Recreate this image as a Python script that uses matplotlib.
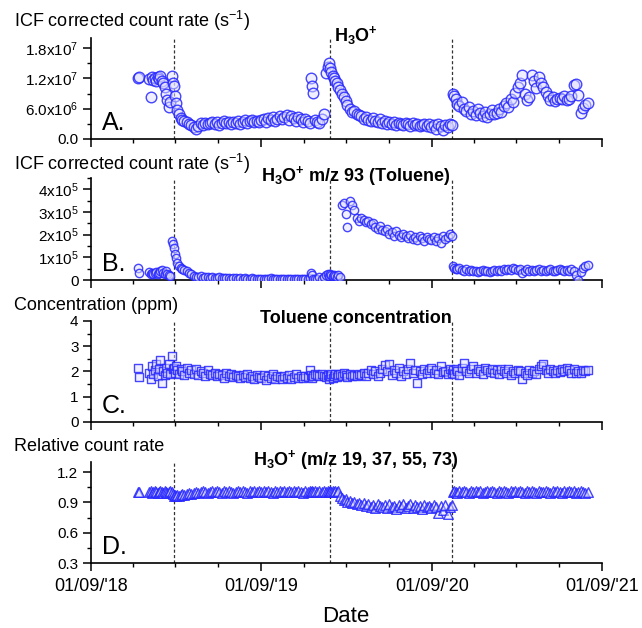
"""
Stacked time series: ICF corrected count rates (H3O+ and m/z 93),
toluene concentration and relative H3O+ count rate on a shared date axis.
"""

import numpy as np
import pandas as pd
import matplotlib
matplotlib.use("Agg")
import matplotlib.pyplot as plt
import matplotlib.dates as mdates
from matplotlib.ticker import MultipleLocator

plt.rcParams["font.family"] = ["Liberation Sans", "DejaVu Sans"]
plt.rcParams["mathtext.fontset"] = "custom"
plt.rcParams["mathtext.rm"] = "Liberation Sans"
plt.rcParams["mathtext.it"] = "Liberation Sans:italic"
plt.rcParams["mathtext.bf"] = "Liberation Sans:bold"

START = pd.Timestamp("2018-09-01")
END   = pd.Timestamp("2021-09-01")

# ─── Data ─────────────────────────────────────────────────────────────────────

# measurement days, counted from 01/09/2018
days = [
    100, 104, 125, 128, 131, 134, 137, 140, 143, 146,
    149, 152, 155, 158, 161, 164, 167, 170, 173, 176,
    178, 180, 182, 185, 188, 192, 196, 200, 205, 210,
    215, 220, 225, 230, 235, 240, 245, 250, 255, 260,
    265, 270, 275, 280, 285, 290, 295, 300, 305, 310,
    315, 320, 325, 330, 335, 340, 345, 350, 355, 360,
    365, 370, 375, 380, 385, 390, 395, 400, 405, 410,
    415, 420, 425, 430, 435, 440, 445, 450, 455, 460,
    465, 470, 472, 474, 476, 480, 485, 490, 495, 500,
    504, 508, 510, 512, 515, 518, 521, 524, 527, 530,
    534, 538, 542, 546, 550, 555, 560, 565, 570, 575,
    580, 585, 590, 595, 600, 605, 610, 615, 620, 625,
    630, 635, 640, 645, 650, 655, 660, 665, 670, 675,
    680, 685, 690, 695, 700, 705, 710, 715, 720, 725,
    730, 735, 740, 745, 750, 755, 760, 765, 770, 774,
    776, 779, 782, 786, 790, 795, 800, 805, 810, 815,
    820, 825, 830, 835, 840, 845, 850, 855, 860, 865,
    870, 875, 880, 885, 890, 895, 900, 905, 910, 915,
    920, 925, 930, 935, 940, 945, 950, 955, 960, 965,
    970, 975, 980, 985, 990, 995, 1000, 1005, 1010, 1015,
    1020, 1025, 1030, 1035, 1040, 1045, 1050, 1055, 1060, 1066,
]

# H3O+ ICF corrected count rate, x10^6 s-1
h3o_rate = [
    12.1, 12.2, 11.8, 8.4, 12.2, 11.6, 12.0, 11.5, 12.3, 11.8,
    12.4, 11.5, 11.0, 10.2, 9.0, 7.8, 6.4, 7.3, 12.5, 11.0,
    10.4, 8.6, 7.2, 5.8, 4.9, 4.2, 3.8, 3.6, 3.3, 3.0,
    2.8, 2.4, 2.0, 2.6, 3.1, 2.7, 3.2, 2.9, 3.1, 3.3,
    3.0, 3.4, 2.8, 3.2, 3.5, 3.1, 3.3, 2.9, 3.4, 3.2,
    3.6, 3.0, 3.4, 3.7, 3.2, 3.5, 3.8, 3.3, 3.6, 3.4,
    3.7, 4.0, 3.4, 4.2, 3.8, 4.4, 3.6, 4.0, 4.6, 3.9,
    4.3, 4.8, 3.7, 4.5, 4.1, 3.6, 4.4, 3.9, 3.4, 4.0,
    3.5, 3.2, 12.0, 10.4, 9.2, 3.8, 3.4, 3.2, 4.0, 5.0,
    13.0, 14.2, 15.0, 14.0, 13.2, 12.4, 12.0, 11.4, 11.0, 10.2,
    9.7, 9.0, 8.4, 7.6, 6.8, 6.0, 5.4, 5.6, 5.0, 4.8,
    4.5, 4.0, 4.3, 3.8, 3.5, 4.1, 3.6, 3.3, 3.9, 3.2,
    3.5, 3.0, 3.4, 2.9, 3.3, 2.7, 3.2, 3.0, 2.8, 3.1,
    2.9, 2.6, 3.1, 2.7, 3.0, 2.5, 2.8, 3.0, 2.6, 2.9,
    2.4, 2.8, 2.0, 2.9, 2.5, 1.8, 2.7, 2.3, 3.0, 2.8,
    9.0, 8.6, 7.9, 7.0, 6.5, 7.4, 6.0, 5.5, 6.4, 5.0,
    5.6, 4.8, 6.0, 5.2, 4.6, 5.4, 4.4, 5.0, 5.8, 4.9,
    5.2, 6.0, 5.4, 6.6, 7.2, 6.4, 8.0, 7.4, 9.2, 10.2,
    11.0, 12.6, 9.0, 7.8, 8.4, 12.6, 11.4, 10.0, 12.2, 11.0,
    10.2, 9.4, 8.6, 7.8, 8.4, 7.6, 7.9, 8.2, 8.0, 8.5,
    7.7, 8.0, 8.6, 10.6, 10.8, 8.8, 5.2, 6.2, 6.8, 7.1,
]

# m/z 93 (toluene) ICF corrected count rate, x10^5 s-1
tol_rate = [
    0.55, 0.32, 0.35, 0.28, 0.32, 0.25, 0.30, 0.36, 0.28, 0.32,
    0.40, 0.45, 0.33, 0.28, 0.38, 0.25, 0.22, 0.18, 1.72, 1.60,
    1.40, 1.15, 0.95, 0.75, 0.62, 0.55, 0.48, 0.45, 0.40, 0.32,
    0.25, 0.18, 0.14, 0.12, 0.16, 0.10, 0.14, 0.12, 0.10, 0.13,
    0.10, 0.08, 0.12, 0.09, 0.07, 0.10, 0.08, 0.06, 0.09, 0.07,
    0.06, 0.08, 0.05, 0.07, 0.06, 0.04, 0.07, 0.05, 0.06, 0.04,
    0.05, 0.06, 0.03, 0.05, 0.07, 0.04, 0.05, 0.06, 0.03, 0.05,
    0.04, 0.06, 0.05, 0.03, 0.05, 0.04, 0.06, 0.03, 0.05, 0.04,
    0.06, 0.08, 0.32, 0.20, 0.05, 0.04, 0.06, 0.12, 0.05, 0.15,
    0.22, 0.28, 0.18, 0.25, 0.20, 0.16, 0.22, 0.18, 0.14, 0.20,
    0.12, 3.30, 3.40, 2.90, 2.35, 3.50, 3.30, 3.10, 2.75, 2.60,
    2.75, 2.65, 2.55, 2.60, 2.45, 2.50, 2.35, 2.25, 2.40, 2.20,
    2.15, 2.25, 2.05, 2.10, 1.95, 2.15, 2.00, 1.90, 2.05, 1.95,
    1.85, 2.00, 1.80, 1.90, 1.75, 1.95, 1.85, 1.70, 1.90, 1.80,
    1.75, 1.90, 1.70, 1.85, 1.65, 1.95, 1.80, 1.90, 2.05, 1.95,
    0.60, 0.55, 0.50, 0.48, 0.52, 0.45, 0.42, 0.48, 0.40, 0.44,
    0.38, 0.42, 0.36, 0.40, 0.45, 0.38, 0.42, 0.36, 0.40, 0.44,
    0.40, 0.46, 0.42, 0.48, 0.44, 0.50, 0.46, 0.52, 0.48, 0.45,
    0.50, 0.30, 0.42, 0.48, 0.40, 0.45, 0.38, 0.44, 0.48, 0.42,
    0.46, 0.40, 0.44, 0.48, 0.42, 0.38, 0.45, 0.50, 0.44, 0.40,
    0.46, 0.42, 0.48, 0.38, 0.22, 0.02, 0.35, 0.55, 0.62, 0.68,
]

# toluene concentration, ppm
tol_conc = [
    2.12, 1.78, 1.95, 1.70, 2.20, 1.90, 2.05, 2.30, 1.80, 2.10,
    2.45, 1.55, 2.00, 1.85, 2.15, 1.95, 2.30, 1.90, 2.62, 2.10,
    2.15, 1.95, 2.20, 2.05, 1.90, 2.10, 2.00, 1.85, 2.15, 1.95,
    2.05, 1.90, 2.10, 1.85, 2.00, 1.95, 1.80, 2.05, 1.90, 1.85,
    1.95, 1.80, 1.90, 1.85, 1.75, 1.95, 1.80, 1.90, 1.78, 1.85,
    1.80, 1.72, 1.85, 1.78, 1.90, 1.75, 1.82, 1.70, 1.85, 1.78,
    1.72, 1.85, 1.65, 1.80, 1.75, 1.90, 1.70, 1.82, 1.76, 1.68,
    1.80, 1.74, 1.85, 1.70, 1.78, 1.88, 1.72, 1.80, 1.75, 1.82,
    1.78, 2.05, 1.85, 1.75, 1.80, 1.90, 1.85, 1.80, 1.88, 1.82,
    1.78, 1.85, 1.70, 1.80, 1.88, 1.75, 1.82, 1.90, 1.78, 1.85,
    1.88, 1.80, 1.92, 1.85, 1.78, 1.90, 1.82, 1.86, 1.80, 1.88,
    1.85, 1.92, 1.80, 1.95, 2.05, 1.88, 2.00, 1.82, 1.95, 2.10,
    2.25, 2.00, 2.30, 1.85, 2.05, 1.92, 2.15, 1.80, 2.00, 1.90,
    2.10, 2.35, 1.95, 2.05, 1.55, 2.00, 1.88, 2.10, 1.95, 2.05,
    2.15, 1.95, 2.05, 1.90, 2.20, 1.98, 2.02, 1.88, 2.10, 1.95,
    2.05, 1.90, 2.10, 2.00, 1.85, 2.15, 2.35, 2.00, 1.92, 2.10,
    2.20, 1.95, 2.10, 2.02, 1.90, 2.15, 2.05, 1.98, 2.10, 1.95,
    2.05, 1.90, 2.10, 2.00, 1.92, 2.08, 1.85, 2.00, 1.95, 2.05,
    2.00, 1.70, 1.95, 1.85, 2.05, 1.92, 2.00, 1.88, 2.10, 2.20,
    2.30, 2.05, 1.95, 2.10, 2.00, 1.92, 2.05, 1.98, 2.10, 2.00,
    2.15, 2.05, 1.95, 2.10, 1.92, 2.00, 1.95, 2.05, 2.00, 2.05,
]

# H3O+ (m/z 19, 37, 55, 73) relative count rate
rel_rate = [
    1.00, 1.00, 1.00, 1.01, 0.99, 1.00, 1.01, 1.00, 0.99, 1.00,
    1.01, 1.00, 0.99, 1.01, 1.00, 0.99, 1.00, 1.01, 1.00, 0.98,
    0.96, 0.97, 0.96, 0.97, 0.96, 0.97, 0.98, 0.97, 0.98, 0.99,
    0.98, 0.99, 1.00, 0.99, 1.00, 1.01, 1.00, 0.99, 1.00, 1.01,
    1.00, 1.01, 1.00, 0.99, 1.01, 1.00, 1.01, 1.00, 0.99, 1.00,
    1.01, 1.00, 1.01, 1.00, 0.99, 1.01, 1.00, 1.01, 1.00, 1.01,
    1.00, 1.01, 1.00, 1.01, 1.00, 0.99, 1.01, 1.00, 1.01, 1.00,
    1.01, 1.00, 1.01, 1.00, 1.01, 1.00, 1.01, 1.00, 0.99, 1.01,
    1.00, 1.01, 1.00, 1.01, 1.00, 1.01, 1.00, 1.01, 1.00, 1.01,
    1.00, 1.01, 1.00, 1.01, 1.00, 1.01, 1.00, 1.01, 1.00, 1.01,
    0.96, 0.94, 0.92, 0.93, 0.90, 0.91, 0.89, 0.90, 0.88, 0.89,
    0.87, 0.89, 0.86, 0.88, 0.85, 0.87, 0.84, 0.88, 0.86, 0.85,
    0.87, 0.84, 0.88, 0.85, 0.86, 0.83, 0.87, 0.85, 0.88, 0.84,
    0.86, 0.88, 0.84, 0.87, 0.85, 0.86, 0.83, 0.87, 0.85, 0.86,
    0.84, 0.87, 0.85, 0.80, 0.86, 0.82, 0.87, 0.79, 0.85, 0.87,
    1.00, 1.01, 1.00, 0.99, 1.01, 1.00, 1.01, 1.00, 0.99, 1.01,
    1.00, 1.01, 1.00, 1.01, 0.99, 1.00, 1.01, 1.00, 1.01, 1.00,
    0.99, 1.01, 1.00, 1.01, 1.00, 0.99, 1.01, 1.00, 1.01, 1.00,
    1.01, 1.00, 0.99, 1.01, 1.00, 1.01, 1.00, 0.99, 1.01, 1.00,
    1.00, 1.01, 1.00, 0.99, 1.01, 1.00, 1.01, 1.00, 0.99, 1.01,
    1.00, 1.01, 1.00, 1.01, 0.99, 1.00, 1.01, 1.00, 0.99, 1.00,
]

# instrument change-over days (dashed lines), counted from 01/09/2018
change_days = [177, 512, 775]

# ─── Style ────────────────────────────────────────────────────────────────────

EDGE = (0.15, 0.15, 1.0, 0.85)
FACE = (0.88, 0.88, 1.0, 0.5)
LEFT, WIDTH = 91 / 642, 511 / 642

PANELS = [
    dict(values=np.array(h3o_rate) * 1e6, marker="o", size=58,
         bottom=0.7787, height=0.1608, ylim=(0, 2.0e7),
         ticks=[0, 6e6, 1.2e7, 1.8e7], minor=3e6,
         labels=["0.0", r"6.0x10$^{6}$", r"1.2x10$^{7}$", r"1.8x10$^{7}$"],
         letter="A.", label_y=0.9666,
         ylabel=r"ICF corrected count rate (s$^{-1}$)",
         title=r"H$_\mathbf{3}$O$^\mathbf{+}$"),
    dict(values=np.array(tol_rate) * 1e5, marker="o", size=36,
         bottom=0.5541, height=0.1624, ylim=(0, 4.5e5),
         ticks=[0, 1e5, 2e5, 3e5, 4e5], minor=0.5e5,
         labels=["0", r"1x10$^{5}$", r"2x10$^{5}$", r"3x10$^{5}$", r"4x10$^{5}$"],
         letter="B.", label_y=0.7389,
         ylabel=r"ICF corrected count rate (s$^{-1}$)",
         title=r"H$_\mathbf{3}$O$^\mathbf{+}$ m/z 93 (Toluene)"),
    dict(values=np.array(tol_conc), marker="s", size=28,
         bottom=0.3285, height=0.1604, ylim=(0, 4),
         ticks=[0, 1, 2, 3, 4], minor=0.5,
         labels=["0", "1", "2", "3", "4"],
         letter="C.", label_y=0.5143,
         ylabel="Concentration (ppm)",
         title="Toluene concentration"),
    dict(values=np.array(rel_rate), marker="^", size=48,
         bottom=0.1035, height=0.1608, ylim=(0.3, 1.3),
         ticks=[0.3, 0.6, 0.9, 1.2], minor=0.15,
         labels=["0.3", "0.6", "0.9", "1.2"],
         letter="D.", label_y=0.2898,
         ylabel="Relative count rate",
         title=r"H$_\mathbf{3}$O$^\mathbf{+}$ (m/z 19, 37, 55, 73)"),
]


# ─── Plot ─────────────────────────────────────────────────────────────────────

def draw_panel(fig, dates, cfg, show_dates):
    ax = fig.add_axes([LEFT, cfg["bottom"], WIDTH, cfg["height"]])
    ax.scatter(dates, cfg["values"], s=cfg["size"], marker=cfg["marker"],
               facecolors=FACE, edgecolors=EDGE, linewidths=1.0, zorder=3)

    for d in change_days:
        ax.axvline(START + pd.Timedelta(days=d), color="#333333", lw=0.9,
                   ls=(0, (2.5, 1.8)), zorder=2)

    ax.set_xlim(START, END)
    ax.set_ylim(*cfg["ylim"])
    ax.set_yticks(cfg["ticks"], cfg["labels"])
    ax.yaxis.set_minor_locator(MultipleLocator(cfg["minor"]))

    ax.xaxis.set_major_locator(mdates.YearLocator(month=9, day=1))
    ax.xaxis.set_minor_locator(mdates.MonthLocator(bymonth=[3, 6, 9, 12], bymonthday=1))
    ax.xaxis.set_major_formatter(mdates.DateFormatter("%d/%m/'%y"))

    for side in ("top", "right"):
        ax.spines[side].set_visible(False)
    for side in ("left", "bottom"):
        ax.spines[side].set_linewidth(1.2)

    ax.tick_params(which="major", direction="out", length=6, width=1.1)
    ax.tick_params(which="minor", direction="out", length=3, width=1.0)
    ax.tick_params(axis="y", labelsize=11, pad=3)
    ax.tick_params(axis="x", labelsize=13, pad=5, labelbottom=show_dates)

    ax.text(0.022, 0.16, cfg["letter"], transform=ax.transAxes,
            fontsize=18, ha="left", va="center")
    ax.text(0.519, 1.02, cfg["title"], transform=ax.transAxes,
            fontsize=13, fontweight="bold", ha="center", va="center")
    fig.text(14 / 642, cfg["label_y"], cfg["ylabel"], fontsize=13,
             ha="left", va="center")
    return ax


def main():
    fig = plt.figure(figsize=(6.42, 6.28), dpi=100)
    dates = (START + pd.to_timedelta(days, unit="D")).values

    for i, cfg in enumerate(PANELS):
        draw_panel(fig, dates, cfg, show_dates=(i == len(PANELS) - 1))

    fig.text(346 / 642, 1 - 616 / 628, "Date", fontsize=16,
             ha="center", va="center")
    fig.savefig("out.png", dpi=100)
    plt.close(fig)


if __name__ == "__main__":
    main()
